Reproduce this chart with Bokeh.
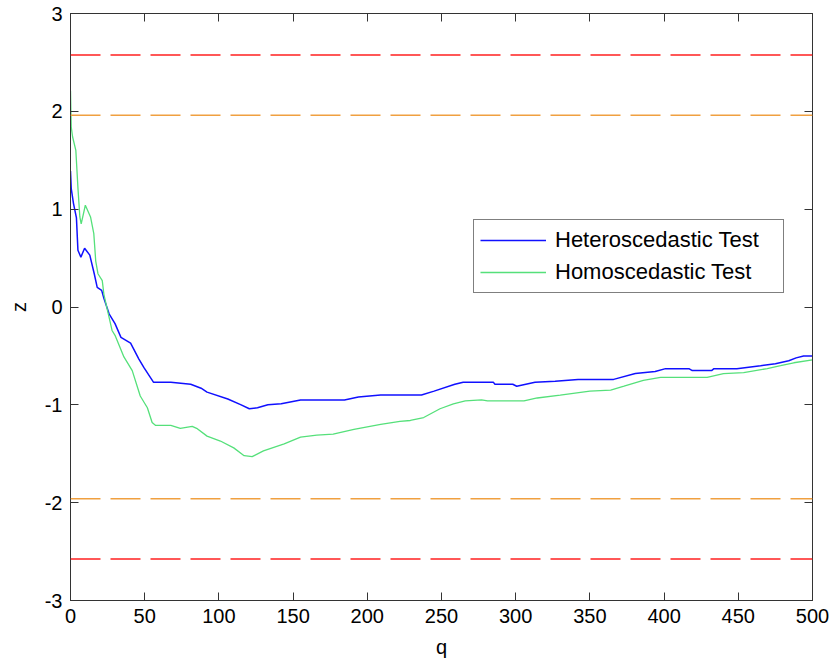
from bokeh.plotting import figure
from bokeh.models import (Range1d, Span, LinearAxis, Legend, LegendItem, FixedTicker,
                          CustomJSTickFormatter)
from bokeh.embed import file_html
from bokeh.resources import INLINE

# ---- data ----
q_het = [0, 0.5, 2, 4, 5, 7, 9.5, 13, 16, 18, 21, 22.5, 26, 30, 34, 40.5, 46, 49.5, 56,
         67.6, 81, 88, 92, 106, 115, 120.5, 126, 133, 142, 155, 184.6, 194, 209, 236.5,
         245, 259, 264.6, 285, 286, 298, 300.7, 313, 326.6, 342, 366, 380.6, 394, 401,
         416.7, 419, 432, 433.6, 449, 465, 475, 484, 489, 494, 500]
z_het = [1.39, 1.21, 1.06, 0.91, 0.58, 0.51, 0.60, 0.53, 0.34, 0.20, 0.17, 0.09, -0.07,
         -0.17, -0.31, -0.37, -0.53, -0.62, -0.77, -0.77, -0.79, -0.83, -0.87, -0.94,
         -1.00, -1.04, -1.03, -1.00, -0.99, -0.95, -0.95, -0.92, -0.90, -0.90, -0.86,
         -0.79, -0.77, -0.77, -0.79, -0.79, -0.81, -0.77, -0.76, -0.74, -0.74, -0.68,
         -0.66, -0.63, -0.63, -0.65, -0.65, -0.63, -0.63, -0.60, -0.58, -0.55, -0.52,
         -0.50, -0.50]

q_hom = [0, 0.5, 1.4, 3.6, 5, 6.3, 7.2, 10, 13.5, 15.7, 17, 18.5, 21.4, 22.5, 25, 28, 30,
         36, 41.6, 47, 51.8, 55, 57.4, 67.6, 74, 82, 85, 92, 101, 110, 117, 122.4, 130,
         144, 155, 166, 177, 191, 209, 222, 229, 238, 249, 258, 266, 277, 281, 305.6,
         314.5, 330, 350, 364, 373, 386, 397.6, 429, 440, 453.6, 469.5, 478.5, 487.4, 500]
z_hom = [2.21, 1.84, 1.74, 1.60, 1.22, 0.92, 0.85, 1.04, 0.92, 0.75, 0.47, 0.34, 0.27,
         0.13, -0.04, -0.24, -0.29, -0.51, -0.65, -0.91, -1.03, -1.18, -1.21, -1.21,
         -1.24, -1.22, -1.24, -1.32, -1.37, -1.44, -1.52, -1.53, -1.47, -1.40, -1.33,
         -1.31, -1.30, -1.25, -1.20, -1.17, -1.16, -1.13, -1.04, -0.99, -0.96, -0.95,
         -0.96, -0.96, -0.93, -0.90, -0.86, -0.85, -0.81, -0.75, -0.72, -0.72, -0.68,
         -0.67, -0.63, -0.60, -0.57, -0.54]

crit_99 = [2.576, -2.576]
crit_95 = [1.96, -1.96]

x_ticks = [0, 50, 100, 150, 200, 250, 300, 350, 400, 450, 500]
y_ticks = [-3, -2, -1, 0, 1, 2, 3]

FONT = "Liberation Sans"
AX = "#333333"

p = figure(width=834, height=662, output_backend="svg", toolbar_location=None,
           x_range=Range1d(0, 500), y_range=Range1d(-3, 3),
           min_border_left=70, min_border_right=22, min_border_top=13, min_border_bottom=62)
p.background_fill_color = "white"
p.border_fill_color = "white"
p.outline_line_color = AX
p.grid.visible = False

fmt = CustomJSTickFormatter(code="return tick.toString();")

def style_axis(ax, labels=True):
    ax.axis_line_color = AX
    ax.major_tick_line_color = AX
    ax.major_tick_in = 8
    ax.major_tick_out = 0
    ax.minor_tick_line_color = None
    ax.major_label_text_font = FONT
    ax.major_label_text_font_size = "20px"
    ax.major_label_text_color = "black" if labels else None
    ax.axis_label_text_font = FONT
    ax.axis_label_text_font_size = "20px"
    ax.axis_label_text_font_style = "normal"
    ax.axis_label_text_color = "black"

p.xaxis.ticker = FixedTicker(ticks=x_ticks)
p.yaxis.ticker = FixedTicker(ticks=y_ticks)
p.xaxis.formatter = fmt
p.yaxis.formatter = fmt
p.xaxis.axis_label = "q"
p.yaxis.axis_label = "z"
style_axis(p.xaxis[0])
style_axis(p.yaxis[0])
p.xaxis.major_label_standoff = 8
p.yaxis.major_label_standoff = 8
p.xaxis.axis_label_standoff = 10
p.yaxis.axis_label_standoff = 12

ra = LinearAxis(ticker=FixedTicker(ticks=y_ticks))
style_axis(ra, labels=False)
ra.major_label_text_font_size = "1px"
ra.major_label_standoff = 0
p.add_layout(ra, "right")
ta = LinearAxis(ticker=FixedTicker(ticks=x_ticks))
style_axis(ta, labels=False)
ta.major_label_text_font_size = "1px"
ta.major_label_standoff = 0
p.add_layout(ta, "above")

for v in crit_99:
    p.add_layout(Span(location=v, dimension="width", line_color="#FF2020",
                      line_width=1.3, line_dash="30 10"))
for v in crit_95:
    p.add_layout(Span(location=v, dimension="width", line_color="#F0A040",
                      line_width=1.3, line_dash="30 10"))

r1 = p.line(q_het, z_het, line_color="#1010FF", line_width=1.5)
r2 = p.line(q_hom, z_hom, line_color="#55E07A", line_width=1.3)

legend = Legend(items=[LegendItem(label="Heteroscedastic Test", renderers=[r1]),
                       LegendItem(label="Homoscedastic Test", renderers=[r2])],
                location=(403, 307))
legend.label_text_font = FONT
legend.label_text_font_size = "22px"
legend.label_text_color = "black"
legend.glyph_width = 66
legend.glyph_height = 28
legend.label_height = 28
legend.label_width = 222
legend.label_standoff = 9
legend.spacing = 4
legend.padding = 6
legend.margin = 0
legend.border_line_color = "black"
legend.border_line_width = 1
legend.background_fill_color = "white"
legend.background_fill_alpha = 1
p.add_layout(legend, "center")

open("out.html", "w").write(file_html(p, INLINE))
